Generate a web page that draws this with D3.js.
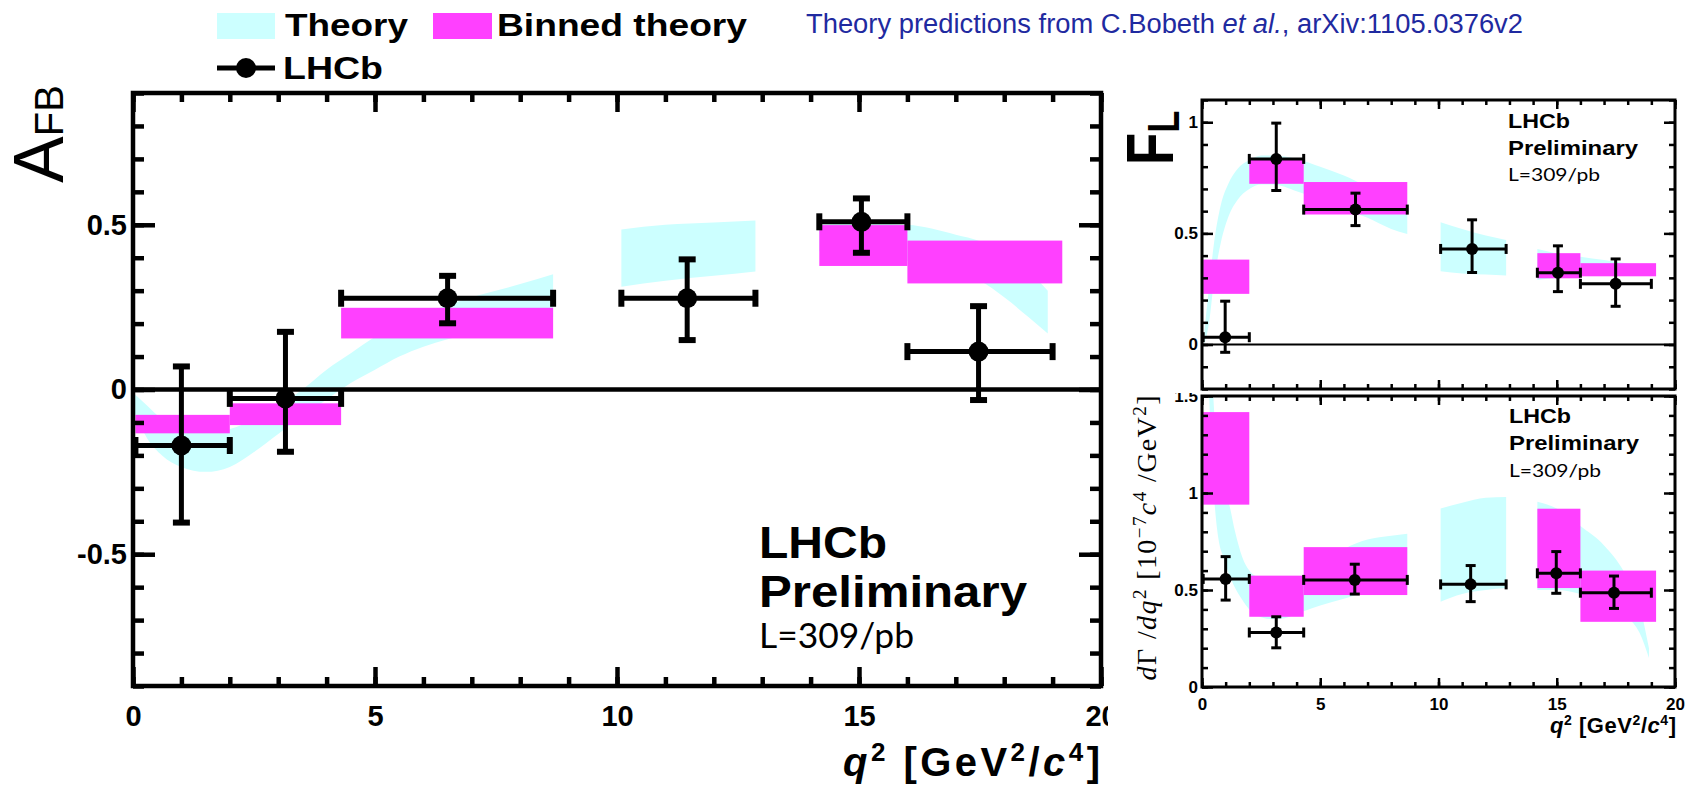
<!DOCTYPE html>
<html lang="en">
<head>
<meta charset="UTF-8">
<script src="https://d3js.org/d3.v7.min.js"></script>
<title>LHCb AFB / FL / dGamma</title>
<style>
  body { margin: 0; background: #fff; }
  svg { display: block; }
</style>
</head>
<body>
<svg id="chart" width="1689" height="785"></svg>
<script>
const SANS = '"Liberation Sans", Arial, Helvetica, sans-serif';
const HUMAN = 'Lato, "Open Sans", sans-serif';
const SERIF = '"Liberation Serif", "Times New Roman", serif';
const CYAN = "#ccffff", MAGENTA = "#ff40ff";

// q2 bins of the measurement and of the binned theory
const dataLo = [0.05, 2.0, 4.3, 10.09, 14.18, 16.0];
const dataHi = [2.0, 4.3, 8.68, 12.86, 16.0, 19.0];
const thLo = [0.05, 2.0, 4.3, 10.09, 14.18, 16.0];
const thHi = [2.0, 4.3, 8.68, 12.86, 16.0, 19.2];

// AFB
const afbX = [1.0, 3.15, 6.5, 11.45, 15.05, 17.47];
const afbY = [-0.17, -0.027, 0.277, 0.277, 0.509, 0.115];
const afbErrHi = [0.24, 0.202, 0.068, 0.118, 0.071, 0.138];
const afbErrLo = [0.234, 0.162, 0.076, 0.127, 0.094, 0.147];
const afbBinLo = [-0.133, -0.108, 0.155, null, 0.375, 0.322];
const afbBinHi = [-0.077, -0.042, 0.248, null, 0.499, 0.452];
const afbBandQ = [[0.0, 0.3, 0.6, 1.0, 1.5, 2.0, 2.5, 3.0, 3.5, 4.0, 4.5, 5.0, 5.5, 6.0, 7.0, 8.0, 8.68],
                  [10.09, 11, 12, 12.86],
                  [14.18, 15, 16, 17, 17.5, 18, 18.5, 18.9]];
const afbBandLo = [[-0.06, -0.15, -0.2, -0.235, -0.25, -0.235, -0.19, -0.135, -0.08, -0.03, 0.02, 0.06, 0.1, 0.13, 0.17, 0.2, 0.22],
                   [0.312, 0.33, 0.345, 0.358],
                   [0.42, 0.41, 0.39, 0.36, 0.33, 0.28, 0.22, 0.17]];
const afbBandHi = [[-0.01, -0.05, -0.09, -0.12, -0.13, -0.12, -0.09, -0.05, 0.0, 0.06, 0.11, 0.16, 0.2, 0.23, 0.28, 0.32, 0.35],
                   [0.486, 0.5, 0.507, 0.513],
                   [0.5, 0.505, 0.5, 0.47, 0.45, 0.41, 0.36, 0.3]];

// FL
const flX = [0.98, 3.14, 6.49, 11.42, 15.05, 17.49];
const flY = [0.033, 0.835, 0.607, 0.43, 0.323, 0.273];
const flErrHi = [0.162, 0.161, 0.074, 0.131, 0.121, 0.112];
const flErrLo = [0.068, 0.142, 0.072, 0.106, 0.085, 0.101];
const flBinLo = [0.228, 0.723, 0.585, null, 0.298, 0.307];
const flBinHi = [0.382, 0.831, 0.731, null, 0.411, 0.366];
const flBandQ = [[0.1, 0.3, 0.5, 0.8, 1.1, 1.5, 2.0, 2.5, 3.0, 4.0, 5.0, 6.0, 7.0, 8.0, 8.68],
                 [10.09, 11, 12, 12.86],
                 [14.18, 15, 16, 17, 18, 19]];
const flBandLo = [[0.0, 0.1, 0.28, 0.46, 0.57, 0.65, 0.7, 0.72, 0.72, 0.69, 0.65, 0.61, 0.57, 0.52, 0.497],
                  [0.33, 0.32, 0.315, 0.31],
                  [0.29, 0.3, 0.31, 0.315, 0.32, 0.32]];
const flBandHi = [[0.06, 0.26, 0.45, 0.63, 0.72, 0.79, 0.83, 0.85, 0.85, 0.835, 0.8, 0.76, 0.71, 0.66, 0.63],
                  [0.55, 0.52, 0.49, 0.47],
                  [0.43, 0.41, 0.395, 0.38, 0.365, 0.355]];

// dGamma/dq2
const dgX = [1.0, 3.14, 6.46, 11.36, 14.98, 17.42];
const dgY = [0.557, 0.281, 0.552, 0.529, 0.586, 0.486];
const dgErrHi = [0.115, 0.081, 0.081, 0.097, 0.112, 0.086];
const dgErrLo = [0.109, 0.079, 0.073, 0.089, 0.103, 0.081];
const dgBinLo = [0.94, 0.362, 0.474, null, 0.51, 0.336];
const dgBinHi = [1.417, 0.574, 0.721, null, 0.919, 0.6];
const dgBandQ = [[0.25, 0.4, 0.55, 0.7, 0.9, 1.15, 1.4, 1.7, 2.0, 2.5, 3.0, 3.5, 4.3, 5.0, 6.0, 7.0, 8.0, 8.68],
                 [10.09, 11, 12, 12.86],
                 [14.18, 15, 16, 17, 18, 18.5, 18.9]];
const dgBandLo = [[1.7, 1.2, 0.92, 0.76, 0.67, 0.58, 0.51, 0.45, 0.4, 0.36, 0.35, 0.355, 0.39, 0.42, 0.455, 0.49, 0.5, 0.51],
                  [0.44, 0.48, 0.5, 0.51],
                  [0.5, 0.5, 0.48, 0.44, 0.36, 0.28, 0.15]];
const dgBandHi = [[2.2, 1.7, 1.35, 1.15, 1.02, 0.94, 0.8, 0.67, 0.6, 0.56, 0.55, 0.555, 0.57, 0.62, 0.71, 0.76, 0.78, 0.79],
                  [0.92, 0.95, 0.975, 0.98],
                  [0.955, 0.92, 0.83, 0.73, 0.56, 0.42, 0.2]];

const svg = d3.select("#chart");

const mainStyle = { frameW: 4.5, tickW: 4.5, xMinorLen: 9, xMajorLen: 19, yMinorLen: 11, yMajorLen: 22,
                    xPad: 19, yPad: 6, font: 29, errW: 5, capLen: 17, capW: 6, dotR: 10, zeroW: 4.5 };
const sideStyle = { frameW: 3, tickW: 2.5, xMinorLen: 5, xMajorLen: 9, yMinorLen: 6, yMajorLen: 11,
                    xPad: 11, yPad: 4, font: 17, errW: 3, capLen: 10, capW: 3, dotR: 6, zeroW: 2 };

function band(g, x, y, Q, LO, HI) {
  const area = d3.area()
    .x(d => x(d[0])).y0(d => y(d[1])).y1(d => y(d[2]))
    .curve(d3.curveMonotoneX);
  Q.forEach((qs, k) => {
    const pts = qs.map((q, i) => [q, LO[k][i], HI[k][i]]);
    g.append("path").attr("d", area(pts)).attr("fill", CYAN);
  });
}

function bins(g, x, y, lo, hi) {
  const idx = d3.range(thLo.length).filter(i => lo[i] !== null);
  g.selectAll("rect.bin").data(idx).join("rect")
    .attr("class", "bin")
    .attr("x", i => x(thLo[i]))
    .attr("width", i => x(thHi[i]) - x(thLo[i]))
    .attr("y", i => y(hi[i]))
    .attr("height", i => y(lo[i]) - y(hi[i]))
    .attr("fill", MAGENTA);
}

function points(g, x, y, s, X, Y, eHi, eLo) {
  const idx = d3.range(X.length);
  const ln = (cls, f) => g.selectAll("line." + cls).data(idx).join("line")
    .attr("class", cls).attr("stroke", "#000")
    .each(function (i) { const [x1, y1, x2, y2, w] = f(i); d3.select(this).attr("x1", x1).attr("y1", y1).attr("x2", x2).attr("y2", y2).attr("stroke-width", w); });
  const h = s.capLen / 2;
  ln("hbar", i => [x(dataLo[i]), y(Y[i]), x(dataHi[i]), y(Y[i]), s.errW]);
  ln("vbar", i => [x(X[i]), y(Y[i] + eHi[i]), x(X[i]), y(Y[i] - eLo[i]), s.errW]);
  ln("capT", i => [x(X[i]) - h, y(Y[i] + eHi[i]), x(X[i]) + h, y(Y[i] + eHi[i]), s.capW]);
  ln("capB", i => [x(X[i]) - h, y(Y[i] - eLo[i]), x(X[i]) + h, y(Y[i] - eLo[i]), s.capW]);
  ln("capL", i => [x(dataLo[i]), y(Y[i]) - h, x(dataLo[i]), y(Y[i]) + h, s.capW]);
  ln("capR", i => [x(dataHi[i]), y(Y[i]) - h, x(dataHi[i]), y(Y[i]) + h, s.capW]);
  g.selectAll("circle.pt").data(idx).join("circle")
    .attr("class", "pt").attr("cx", i => x(X[i])).attr("cy", i => y(Y[i]))
    .attr("r", s.dotR).attr("fill", "#000");
}

function axes(g, x, y, s, yMinor, yMajor, xLabels) {
  const [xa, xb] = x.range(), [yb, yt] = y.range();
  const xMinor = d3.range(0, 21, 1), xMajor = [0, 5, 10, 15, 20];
  const add = (axis, tx, ty) => {
    const a = g.append("g").attr("transform", `translate(${tx},${ty})`).call(axis);
    a.select(".domain").remove();
    a.selectAll("line").attr("stroke", "#000").attr("stroke-width", s.tickW);
    a.selectAll("text").attr("font-family", SANS).attr("font-weight", "bold")
      .attr("font-size", s.font).attr("fill", "#000");
    return a;
  };
  add(d3.axisBottom(x).tickValues(xMinor).tickSize(-s.xMinorLen).tickFormat(""), 0, yb);
  add(d3.axisBottom(x).tickValues(xMajor).tickSize(-s.xMajorLen).tickPadding(s.xPad)
      .tickFormat(xLabels ? d => String(d) : ""), 0, yb);
  add(d3.axisTop(x).tickValues(xMinor).tickSize(-s.xMinorLen).tickFormat(""), 0, yt);
  add(d3.axisTop(x).tickValues(xMajor).tickSize(-s.xMajorLen).tickFormat(""), 0, yt);
  add(d3.axisLeft(y).tickValues(yMinor).tickSize(-s.yMinorLen).tickFormat(""), xa, 0);
  add(d3.axisLeft(y).tickValues(yMajor).tickSize(-s.yMajorLen).tickPadding(s.yPad)
      .tickFormat(d => String(d)), xa, 0);
  add(d3.axisRight(y).tickValues(yMinor).tickSize(-s.yMinorLen).tickFormat(""), xb, 0);
  add(d3.axisRight(y).tickValues(yMajor).tickSize(-s.yMajorLen).tickFormat(""), xb, 0);
  g.append("rect").attr("x", xa).attr("y", yt).attr("width", xb - xa).attr("height", yb - yt)
    .attr("fill", "none").attr("stroke", "#000").attr("stroke-width", s.frameW);
}

function panel(id, x, y, s, d) {
  const g = svg.append("g").attr("id", id);
  const [xa, xb] = x.range(), [yb, yt] = y.range();
  g.append("clipPath").attr("id", id + "-clip").append("rect")
    .attr("x", xa).attr("y", yt).attr("width", xb - xa).attr("height", yb - yt);
  const inner = g.append("g").attr("clip-path", `url(#${id}-clip)`);
  band(inner, x, y, d.Q, d.LO, d.HI);
  bins(inner, x, y, d.binLo, d.binHi);
  if (d.zero) {
    g.append("line").attr("x1", xa).attr("x2", xb).attr("y1", y(0)).attr("y2", y(0))
      .attr("stroke", "#000").attr("stroke-width", s.zeroW);
  }
  points(g, x, y, s, d.X, d.Y, d.eHi, d.eLo);
  axes(g, x, y, s, d.yMinor, d.yMajor, d.xLabels);
  return g;
}

function q2Title(g, xPos, yPos, size, anchor, len) {
  const sup = Math.round(size * 0.65), up = Math.round(size * 0.38);
  const t = g.append("text").attr("x", xPos).attr("y", yPos)
    .attr("font-family", SANS).attr("font-weight", "bold").attr("font-size", size)
    .attr("text-anchor", anchor).attr("textLength", len).attr("lengthAdjust", "spacing");
  t.append("tspan").attr("font-style", "italic").text("q");
  t.append("tspan").attr("dy", -up).attr("font-size", sup).text("2");
  t.append("tspan").attr("dy", up).text(" [GeV");
  t.append("tspan").attr("dy", -up).attr("font-size", sup).text("2");
  t.append("tspan").attr("dy", up).text("/");
  t.append("tspan").attr("font-style", "italic").text("c");
  t.append("tspan").attr("dy", -up).attr("font-size", sup).text("4");
  t.append("tspan").attr("dy", up).text("]");
}

function stamp(g, xPos, yL, yP, yLumi, big, small, lens) {
  g.append("text").attr("x", xPos).attr("y", yL).attr("font-family", SANS).attr("font-weight", "bold")
    .attr("font-size", big).attr("textLength", lens[0]).attr("lengthAdjust", "spacingAndGlyphs").text("LHCb");
  g.append("text").attr("x", xPos).attr("y", yP).attr("font-family", SANS).attr("font-weight", "bold")
    .attr("font-size", big).attr("textLength", lens[1]).attr("lengthAdjust", "spacingAndGlyphs").text("Preliminary");
  g.append("text").attr("x", xPos).attr("y", yLumi).attr("font-family", HUMAN)
    .attr("font-size", small).attr("textLength", lens[2]).attr("lengthAdjust", "spacingAndGlyphs").text("L=309/pb");
}

// ---------------- main AFB plot ----------------
const xMain = d3.scaleLinear([0, 20], [133, 1101]);
const yMain = d3.scaleLinear([-0.9, 0.9], [686, 93]);
const gMain = panel("afb", xMain, yMain, mainStyle, {
  Q: afbBandQ, LO: afbBandLo, HI: afbBandHi, binLo: afbBinLo, binHi: afbBinHi, zero: true,
  X: afbX, Y: afbY, eHi: afbErrHi, eLo: afbErrLo,
  yMinor: d3.range(-9, 10).map(k => k / 10), yMajor: [-0.5, 0, 0.5], xLabels: true
});
stamp(gMain, 759, 558, 607, 648, 44, 35, [128, 268, 155]);
q2Title(gMain, 843, 776, 40, "start", 257);

const afbLab = gMain.append("text").attr("transform", "translate(63,183) rotate(-90)")
  .attr("font-family", SANS).attr("font-size", 70);
afbLab.append("tspan").text("A");
afbLab.append("tspan").attr("font-size", 40).text("FB");

// legend
const leg = svg.append("g").attr("id", "legend");
leg.append("rect").attr("x", 217).attr("y", 13).attr("width", 58).attr("height", 26).attr("fill", CYAN);
leg.append("rect").attr("x", 433).attr("y", 13).attr("width", 59).attr("height", 26).attr("fill", MAGENTA);
leg.append("line").attr("x1", 217).attr("x2", 275).attr("y1", 68).attr("y2", 68).attr("stroke", "#000").attr("stroke-width", 5);
leg.append("circle").attr("cx", 246).attr("cy", 68).attr("r", 10).attr("fill", "#000");
[["Theory", 285, 36, 123], ["Binned theory", 497, 36, 250], ["LHCb", 283, 79, 100]].forEach(([t, lx, ly, len]) => {
  leg.append("text").attr("x", lx).attr("y", ly).attr("font-family", SANS).attr("font-weight", "bold")
    .attr("font-size", 32).attr("textLength", len).attr("lengthAdjust", "spacingAndGlyphs").text(t);
});

const title = svg.append("text").attr("x", 806).attr("y", 33).attr("font-family", SANS)
  .attr("font-size", 27).attr("fill", "#1f2aa0").attr("textLength", 717).attr("lengthAdjust", "spacingAndGlyphs");
title.append("tspan").text("Theory predictions from C.Bobeth ");
title.append("tspan").attr("font-style", "italic").text("et al.");
title.append("tspan").text(", arXiv:1105.0376v2");

// ---------------- side panels ----------------
svg.append("rect").attr("x", 1108).attr("y", 85).attr("width", 581).attr("height", 700).attr("fill", "#fff");

const xSide = d3.scaleLinear([0, 20], [1202, 1675]);
const yDG = d3.scaleLinear([0, 1.5], [687, 396]);
const gDG = panel("dg", xSide, yDG, sideStyle, {
  Q: dgBandQ, LO: dgBandLo, HI: dgBandHi, binLo: dgBinLo, binHi: dgBinHi, zero: false,
  X: dgX, Y: dgY, eHi: dgErrHi, eLo: dgErrLo,
  yMinor: d3.range(0, 16).map(k => k / 10), yMajor: [0, 0.5, 1, 1.5], xLabels: true
});
stamp(gDG, 1509, 423, 450, 477, 21, 17, [62, 130, 92]);
q2Title(gDG, 1676, 733, 22, "end", 126);

const dgLab = gDG.append("text").attr("transform", "translate(1156,538) rotate(-90)")
  .attr("font-family", SERIF).attr("font-size", 28).attr("text-anchor", "middle")
  .attr("textLength", 285).attr("lengthAdjust", "spacing");
[["d", "italic", 0, null], ["\u0393 /", null, 0, null], ["dq", "italic", 0, null], ["2", null, -10, 19],
 [" [10", null, 10, null], ["\u22127", null, -10, 19], ["c", "italic", 10, null], ["4", null, -10, 19],
 [" /GeV", null, 10, null], ["2", null, -10, 19], ["]", null, 10, null]].forEach(([t, st, dy, fs]) => {
  const ts = dgLab.append("tspan").text(t);
  if (st) ts.attr("font-style", st);
  if (dy) ts.attr("dy", dy);
  if (fs) ts.attr("font-size", fs);
});

// FL panel sits on top and hides the upper half of the "1.5" label
svg.append("rect").attr("x", 1108).attr("y", 85).attr("width", 581).attr("height", 308).attr("fill", "#fff");
const yFL = d3.scaleLinear([-0.2, 1.1], [389, 100]);
const gFL = panel("fl", xSide, yFL, sideStyle, {
  Q: flBandQ, LO: flBandLo, HI: flBandHi, binLo: flBinLo, binHi: flBinHi, zero: true,
  X: flX, Y: flY, eHi: flErrHi, eLo: flErrLo,
  yMinor: d3.range(-2, 12).map(k => k / 10), yMajor: [0, 0.5, 1], xLabels: false
});
stamp(gFL, 1508, 128, 155, 181, 21, 17, [62, 130, 92]);

const flLab = gFL.append("text").attr("transform", "translate(1173,165) rotate(-90) scale(0.8,1)")
  .attr("font-family", SANS).attr("font-weight", "bold").attr("font-size", 66);
flLab.append("tspan").text("F");
flLab.append("tspan").attr("font-size", 45).attr("dy", 6).text("L");
</script>
</body>
</html>
